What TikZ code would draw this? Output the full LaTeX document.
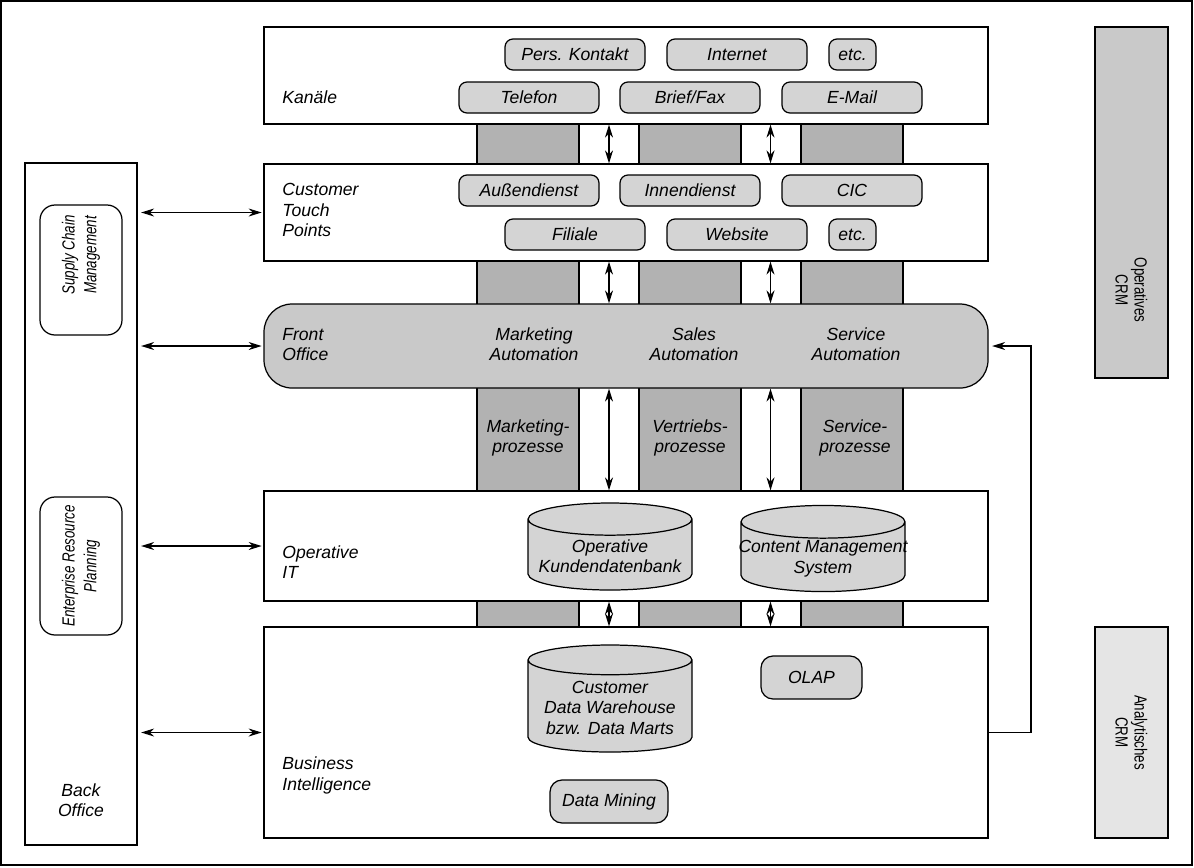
\documentclass[tikz,border=0pt]{standalone}
\usepackage{fontspec}
\setsansfont{Liberation Sans}
\newfontfamily\narrowfont{Liberation Sans}[FakeStretch=0.76]
\usetikzlibrary{arrows.meta,shapes.geometric}
\definecolor{pillgray}{gray}{0.83}
\definecolor{colgray}{gray}{0.70}
\definecolor{opgray}{gray}{0.79}
\definecolor{angray}{gray}{0.90}
\tikzset{
  every node/.style={font=\sffamily\itshape\fontsize{10}{11.6}\selectfont, align=center, inner sep=1pt},
  layer/.style={draw, fill=white, minimum width=14.48cm},
  pill/.style={draw, fill=pillgray, rounded corners=0.16cm, minimum height=0.62cm, minimum width=2.8cm},
  smallpill/.style={pill, minimum width=0.94cm},
  db/.style={draw, fill=pillgray, cylinder, shape border rotate=90, shape aspect=0.22, anchor=shape center},
  lefttext/.style={anchor=west, align=left},
  column/.style={draw, fill=colgray},
  dblarrow/.style={{Stealth[length=2.6mm,width=1.6mm]}-{Stealth[length=2.6mm,width=1.6mm]}},
  onearrow/.style={-{Stealth[length=2.6mm,width=1.6mm]}},
  sidebox/.style={draw, minimum width=1.46cm},
  sidetext/.style={rotate=-90, font=\narrowfont\fontsize{10}{10.8}\selectfont},
  backtext/.style={rotate=90, font=\narrowfont\itshape\fontsize{10}{12.4}\selectfont},
}
\begin{document}
\begin{tikzpicture}[line width=0.7pt]
\useasboundingbox (0,0) rectangle (23.88,-17.34);
\draw (0.02,-0.02) rectangle (23.84,-17.3);

% gray process columns behind the layers
\foreach \x in {9.54, 12.78, 16.02} {
  \draw[column] (\x,-2.48) rectangle ++(2.04,-10.06);
}
\coordinate (a1) at (12.18,0);
\coordinate (a2) at (15.41,0);

% layers
\node[layer, minimum height=1.94cm] (kanaele) at (12.52,-1.51) {};
\node[layer, minimum height=1.94cm] (touch) at (12.52,-4.25) {};
\node[layer, minimum height=1.68cm, fill=opgray, rounded corners=0.56cm] (front) at (12.52,-6.92) {};
\node[layer, minimum height=2.2cm] (opit) at (12.52,-10.92) {};
\node[layer, minimum height=4.22cm] (bi) at (12.52,-14.65) {};

\node[lefttext] (kanaeletxt) at (5.6,-1.94) {Kanäle};
\node[lefttext] (touchtxt) at (5.6,-4.2) {Customer\\Touch\\Points};
\node[lefttext] (fronttxt) at (5.6,-6.89) {Front\\Office};
\node[lefttext] (opittxt) at (5.6,-11.24) {Operative\\IT};
\node[lefttext] (bitxt) at (5.6,-15.51) {Business\\Intelligence};

% channels
\node[pill] (pers) at (11.5,-1.09) {Pers. Kontakt};
\node[pill] (internet) at (14.74,-1.09) {Internet};
\node[smallpill] (etc1) at (17.05,-1.09) {etc.};
\node[pill] (telefon) at (10.58,-1.95) {Telefon};
\node[pill] (brief) at (13.8,-1.95) {Brief/Fax};
\node[pill] (email) at (17.04,-1.95) {E-Mail};

% touch points
\node[pill] (aussen) at (10.58,-3.81) {Außendienst};
\node[pill] (innen) at (13.8,-3.81) {Innendienst};
\node[pill] (cic) at (17.04,-3.81) {CIC};
\node[pill] (filiale) at (11.5,-4.69) {Filiale};
\node[pill] (website) at (14.74,-4.69) {Website};
\node[smallpill] (etc2) at (17.05,-4.69) {etc.};

% front office
\node (mktauto) at (10.68,-6.89) {Marketing\\Automation};
\node (salesauto) at (13.88,-6.89) {Sales\\Automation};
\node (servauto) at (17.12,-6.89) {Service\\Automation};

\node (mktproz) at (10.56,-8.76) {Marketing-\\prozesse};
\node (vertproz) at (13.8,-8.76) {Vertriebs-\\prozesse};
\node (servproz) at (17.1,-8.76) {Service-\\prozesse};

% operative IT
\node[db, minimum width=3.28cm, minimum height=1.74cm] (okdb) at (12.2,-10.93) {Operative\\Kundendatenbank};
\node[db, minimum width=3.28cm, minimum height=1.66cm] (cms) at (16.46,-10.97) {\makebox[2.9cm]{Content Management}\\System};

% business intelligence
\node[db, minimum width=3.28cm, minimum height=2.14cm] (dwh) at (12.2,-13.97) {Customer\\Data Warehouse\\bzw. Data Marts};
\node[pill, minimum width=2.02cm, minimum height=0.86cm, rounded corners=0.24cm] (olap) at (16.23,-13.55) {OLAP};
\node[pill, minimum width=2.36cm, minimum height=0.86cm, rounded corners=0.24cm] (mining) at (12.18,-16.03) {Data Mining};

% vertical arrows
\foreach \a in {a1, a2} {
  \draw[dblarrow] (kanaele.south -| \a) -- (touch.north -| \a);
  \draw[dblarrow] (touch.south -| \a) -- (front.north -| \a);
  \draw[dblarrow] (front.south -| \a) -- (opit.north -| \a);
  \draw[dblarrow] (opit.south -| \a) -- (bi.north -| \a);
}

% back office
\node[draw, minimum width=2.24cm, minimum height=13.64cm] (back) at (1.62,-10.08) {};
\node (backtxt) at (1.62,-16.0) {Back\\Office};
\node[draw, rounded corners=0.3cm, minimum width=1.64cm, minimum height=2.6cm] (scm) at (1.62,-5.4) {};
\node[backtext] (scmtxt) at (1.62,-5.1) {Supply Chain\\Management};
\node[draw, rounded corners=0.3cm, minimum width=1.64cm, minimum height=2.76cm] (erp) at (1.62,-11.32) {};
\node[backtext] (erptxt) at (erp) {Enterprise Resource\\Planning};

\foreach \l in {touch, front, opit, bi} {
  \draw[dblarrow, shorten <=2pt, shorten >=1pt] (back.east |- \l.west) -- (\l.west);
}

% feedback
\coordinate (fb) at (20.62,0);
\draw[onearrow, shorten >=2pt] (bi.east) -| (fb |- front.east) -- (front.east);

% CRM boxes
\node[sidebox, fill=opgray, minimum height=7.02cm] (opcrm) at (22.63,-4.05) {};
\node[sidetext] (opcrmtxt) at (22.63,-5.8) {Operatives\\CRM};
\node[sidebox, fill=angray, minimum height=4.22cm] (ancrm) at (22.63,-14.65) {};
\node[sidetext] (ancrmtxt) at (ancrm) {Analytisches\\CRM};
\end{tikzpicture}
\end{document}
